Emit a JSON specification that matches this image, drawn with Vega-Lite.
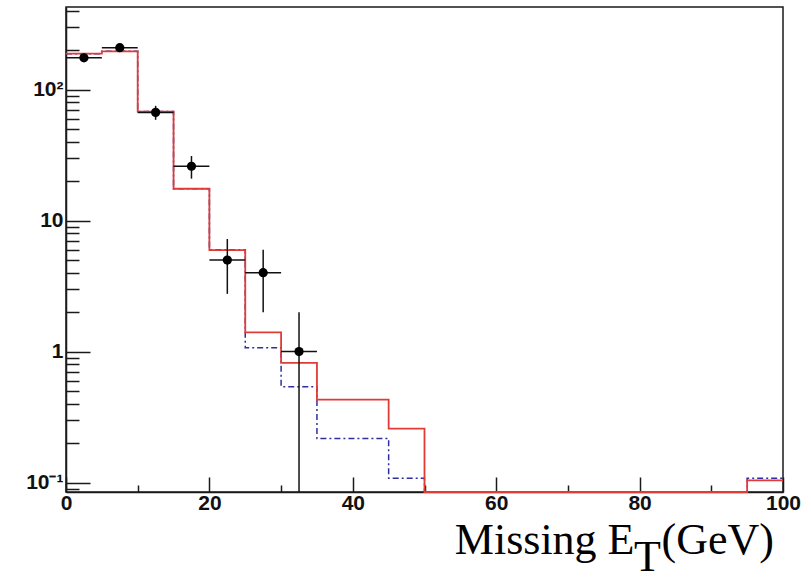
{
  "$schema": "https://vega.github.io/schema/vega-lite/v6.json",
  "width": 717,
  "height": 485,
  "autosize": "none",
  "padding": {"left": 66, "top": 7, "right": 28, "bottom": 91},
  "background": "white",
  "config": {
    "view": {"stroke": "#1a1a1a", "strokeWidth": 1.5},
    "axis": {
      "grid": false,
      "domainColor": "#1a1a1a",
      "domainWidth": 1.5,
      "tickColor": "#1a1a1a",
      "tickWidth": 1.5,
      "labelFont": "Liberation Sans",
      "labelFontWeight": "bold",
      "labelFontSize": 21,
      "labelColor": "#111",
      "titleFont": "Liberation Serif",
      "titleFontWeight": "normal",
      "titleFontSize": 44,
      "titleColor": "#000"
    }
  },
  "title": {
    "text": "T",
    "orient": "bottom",
    "anchor": "start",
    "frame": "group",
    "dx": 568,
    "offset": -26,
    "font": "Liberation Serif",
    "fontSize": 44,
    "fontWeight": "normal",
    "color": "#000",
    "baseline": "top"
  },
  "datasets": {
    "hist": [
      {"x": 0, "red": 188, "blue": 188},
      {"x": 5, "red": 196, "blue": 196},
      {"x": 10, "red": 68, "blue": 68},
      {"x": 15, "red": 17.5, "blue": 17.5},
      {"x": 20, "red": 5.95, "blue": 6.0},
      {"x": 25, "red": 1.4, "blue": 1.07},
      {"x": 30, "red": 0.82, "blue": 0.54},
      {"x": 35, "red": 0.43, "blue": 0.217},
      {"x": 40, "red": 0.43, "blue": 0.217},
      {"x": 45, "red": 0.258, "blue": 0.108},
      {"x": 50, "red": 0.01, "blue": 0.01},
      {"x": 55, "red": 0.01, "blue": 0.01},
      {"x": 60, "red": 0.01, "blue": 0.01},
      {"x": 65, "red": 0.01, "blue": 0.01},
      {"x": 70, "red": 0.01, "blue": 0.01},
      {"x": 75, "red": 0.01, "blue": 0.01},
      {"x": 80, "red": 0.01, "blue": 0.01},
      {"x": 85, "red": 0.01, "blue": 0.01},
      {"x": 90, "red": 0.01, "blue": 0.01},
      {"x": 95, "red": 0.104, "blue": 0.108},
      {"x": 100, "red": 0.104, "blue": 0.108}
    ],
    "pts": [
      {"x": 2.5, "xlo": 0, "xhi": 5, "y": 175, "lo": 162, "hi": 188},
      {"x": 7.5, "xlo": 5, "xhi": 10, "y": 209, "lo": 194.5, "hi": 223.5},
      {"x": 12.5, "xlo": 10, "xhi": 15, "y": 67, "lo": 58.8, "hi": 75.2},
      {"x": 17.5, "xlo": 15, "xhi": 20, "y": 26, "lo": 20.9, "hi": 31.1},
      {"x": 22.5, "xlo": 20, "xhi": 25, "y": 5, "lo": 2.76, "hi": 7.24},
      {"x": 27.5, "xlo": 25, "xhi": 30, "y": 4, "lo": 2, "hi": 6},
      {"x": 32.5, "xlo": 30, "xhi": 35, "y": 1, "lo": 0.01, "hi": 2}
    ]
  },
  "layer": [
    {
      "data": {"name": "hist"},
      "mark": {"type": "line", "interpolate": "step-after", "color": "#2e2ea0", "strokeWidth": 1.5, "strokeDash": [6, 3, 2, 3]},
      "encoding": {
        "x": {
          "field": "x", "type": "quantitative",
          "scale": {"domain": [0, 100], "nice": false, "zero": false},
          "axis": {
            "values": [0,5,10,15,20,25,30,35,40,45,50,55,60,65,70,75,80,85,90,95,100],
            "labelExpr": "datum.value % 20 == 0 ? datum.label : ''",
            "tickSize": {"condition": {"test": "datum.value % 20 == 0", "value": -15}, "value": -7},
            "labelPadding": 15,
            "labelFlush": false,
            "labelOverlap": false,
            "title": "Missing E",
            "titleX": 568,
            "titleY": 61,
            "titleAlign": "right",
            "titleBaseline": "alphabetic",
            "titleAnchor": null
          }
        },
        "y": {
          "field": "blue", "type": "quantitative",
          "scale": {"type": "log", "domain": [0.0848, 427], "nice": false, "clamp": true},
          "axis": {
            "values": [0.09,0.1,0.2,0.3,0.4,0.5,0.6,0.7,0.8,0.9,1,2,3,4,5,6,7,8,9,10,20,30,40,50,60,70,80,90,100,200,300,400],
            "labelExpr": "datum.value == 100 ? '10²' : datum.value == 10 ? '10' : datum.value == 1 ? '1' : datum.value == 0.1 ? '10⁻¹' : ''",
            "tickSize": {"condition": {"test": "datum.value == 0.1 || datum.value == 1 || datum.value == 10 || datum.value == 100", "value": -24}, "value": -13},
            "labelPadding": 27,
            "labelFlush": false,
            "labelOverlap": false,
            "title": "(GeV)",
            "titleAngle": 0,
            "titleX": 595,
            "titleY": 546,
            "titleAlign": "left",
            "titleBaseline": "alphabetic",
            "titleAnchor": null
          }
        }
      }
    },
    {
      "data": {"name": "hist"},
      "mark": {"type": "line", "interpolate": "step-after", "color": "#e23b36", "strokeWidth": 1.8},
      "encoding": {
        "x": {"field": "x", "type": "quantitative"},
        "y": {"field": "red", "type": "quantitative"}
      }
    },
    {
      "data": {"name": "pts"},
      "mark": {"type": "rule", "color": "#111", "strokeWidth": 1.5},
      "encoding": {
        "x": {"field": "xlo", "type": "quantitative"},
        "x2": {"field": "xhi"},
        "y": {"field": "y", "type": "quantitative"}
      }
    },
    {
      "data": {"name": "pts"},
      "mark": {"type": "rule", "color": "#111", "strokeWidth": 1.5},
      "encoding": {
        "x": {"field": "x", "type": "quantitative"},
        "y": {"field": "lo", "type": "quantitative"},
        "y2": {"field": "hi"}
      }
    },
    {
      "data": {"name": "pts"},
      "mark": {"type": "point", "shape": "circle", "filled": true, "color": "#000", "size": 85, "opacity": 1},
      "encoding": {
        "x": {"field": "x", "type": "quantitative"},
        "y": {"field": "y", "type": "quantitative"}
      }
    }
  ]
}
